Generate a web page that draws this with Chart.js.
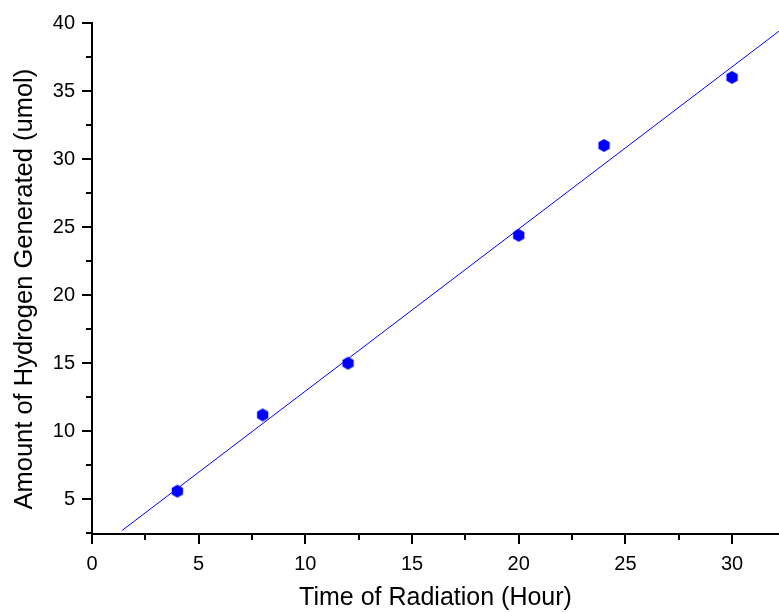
<!DOCTYPE html>
<html>
<head>
<meta charset="utf-8">
<script src="https://cdn.jsdelivr.net/npm/chart.js@4"></script>
<style>
  html, body { margin: 0; padding: 0; background: #fff; }
  #wrap { width: 779px; height: 612px; }
</style>
</head>
<body>
<div id="wrap"><canvas id="chart"></canvas></div>
<script>
// measured data
const hours = [4, 8, 12, 20, 24, 30];
const hydrogen = [5.6, 11.2, 15.0, 24.4, 31.0, 36.0];

// fitted line, end points
const fitHours = [1.4, 32.2];
const fitHydrogen = [2.7, 39.4];

const xTickLabels = [0, 5, 10, 15, 20, 25, 30];
const yTickLabels = [5, 10, 15, 20, 25, 30, 35, 40];

const FONT = "'Liberation Sans', Arial, sans-serif";

// hexagon marker
function hexagon(r, color) {
  const c = document.createElement("canvas");
  const s = Math.ceil(r * 2) + 2;
  c.width = s;
  c.height = s;
  const g = c.getContext("2d");
  g.fillStyle = color;
  g.beginPath();
  for (let i = 0; i < 6; i++) {
    const a = Math.PI / 2 + i * Math.PI / 3;
    const px = s / 2 + r * Math.cos(a);
    const py = s / 2 + r * Math.sin(a);
    if (i === 0) g.moveTo(px, py); else g.lineTo(px, py);
  }
  g.closePath();
  g.fill();
  return c;
}

// outward major / minor tick marks
const tickMarks = {
  id: "tickMarks",
  afterDraw(chart) {
    const { ctx, chartArea, scales } = chart;
    ctx.save();
    ctx.strokeStyle = "#000";
    ctx.lineWidth = 2;
    for (let v = 0; v <= scales.x.max; v += 2.5) {
      const px = Math.round(scales.x.getPixelForValue(v));
      const len = v % 5 === 0 ? 10 : 6;
      ctx.beginPath();
      ctx.moveTo(px, chartArea.bottom);
      ctx.lineTo(px, chartArea.bottom + len);
      ctx.stroke();
    }
    for (let v = 2.5; v <= scales.y.max; v += 2.5) {
      const py = Math.round(scales.y.getPixelForValue(v));
      const len = v % 5 === 0 ? 10 : 6;
      ctx.beginPath();
      ctx.moveTo(chartArea.left, py);
      ctx.lineTo(chartArea.left - len, py);
      ctx.stroke();
    }
    ctx.restore();
  }
};

function noPad(s) {
  s.paddingLeft = 0;
  s.paddingRight = 0;
  s.paddingTop = 0;
  s.paddingBottom = 0;
}

const points = hours.map((h, i) => ({ x: h, y: hydrogen[i] }));
const fitLine = fitHours.map((h, i) => ({ x: h, y: fitHydrogen[i] }));

new Chart(document.getElementById("chart"), {
  type: "scatter",
  data: {
    datasets: [
      {
        data: fitLine,
        showLine: true,
        borderColor: "#0000ff",
        borderWidth: 1,
        pointRadius: 0,
        fill: false,
      },
      {
        data: points,
        pointStyle: hexagon(6.5, "#0000ff"),
        pointRadius: 6.5,
      },
    ],
  },
  plugins: [tickMarks],
  options: {
    responsive: true,
    maintainAspectRatio: false,
    animation: false,
    layout: { autoPadding: false, padding: { top: 23, right: 0, left: 0, bottom: 0 } },
    plugins: { legend: { display: false }, tooltip: { enabled: false } },
    scales: {
      x: {
        type: "linear",
        min: 0,
        max: 32.2,
        afterBuildTicks: (s) => { s.ticks = xTickLabels.map((v) => ({ value: v })); },
        afterFit: (s) => { s.height = 78; noPad(s); },
        grid: { display: true, drawOnChartArea: false, drawTicks: false },
        border: { display: true, color: "#000", width: 2 },
        ticks: {
          color: "#000",
          padding: 18,
          maxRotation: 0,
          font: { family: FONT, size: 20 },
        },
        title: {
          display: true,
          text: "Time of Radiation (Hour)",
          color: "#000",
          padding: { top: 0, bottom: -1 },
          font: { family: FONT, size: 25 },
        },
      },
      y: {
        type: "linear",
        min: 2.45,
        max: 40,
        afterBuildTicks: (s) => { s.ticks = yTickLabels.map((v) => ({ value: v })); },
        afterFit: (s) => { s.width = 92; noPad(s); },
        grid: { display: true, drawOnChartArea: false, drawTicks: false },
        border: { display: true, color: "#000", width: 2 },
        ticks: {
          color: "#000",
          padding: 17,
          font: { family: FONT, size: 20 },
        },
        title: {
          display: true,
          text: "Amount of Hydrogen Generated (umol)\u00a0\u00a0\u00a0",
          color: "#000",
          padding: { top: 10, bottom: 0 },
          font: { family: FONT, size: 25.5 },
        },
      },
    },
  },
});
</script>
</body>
</html>
